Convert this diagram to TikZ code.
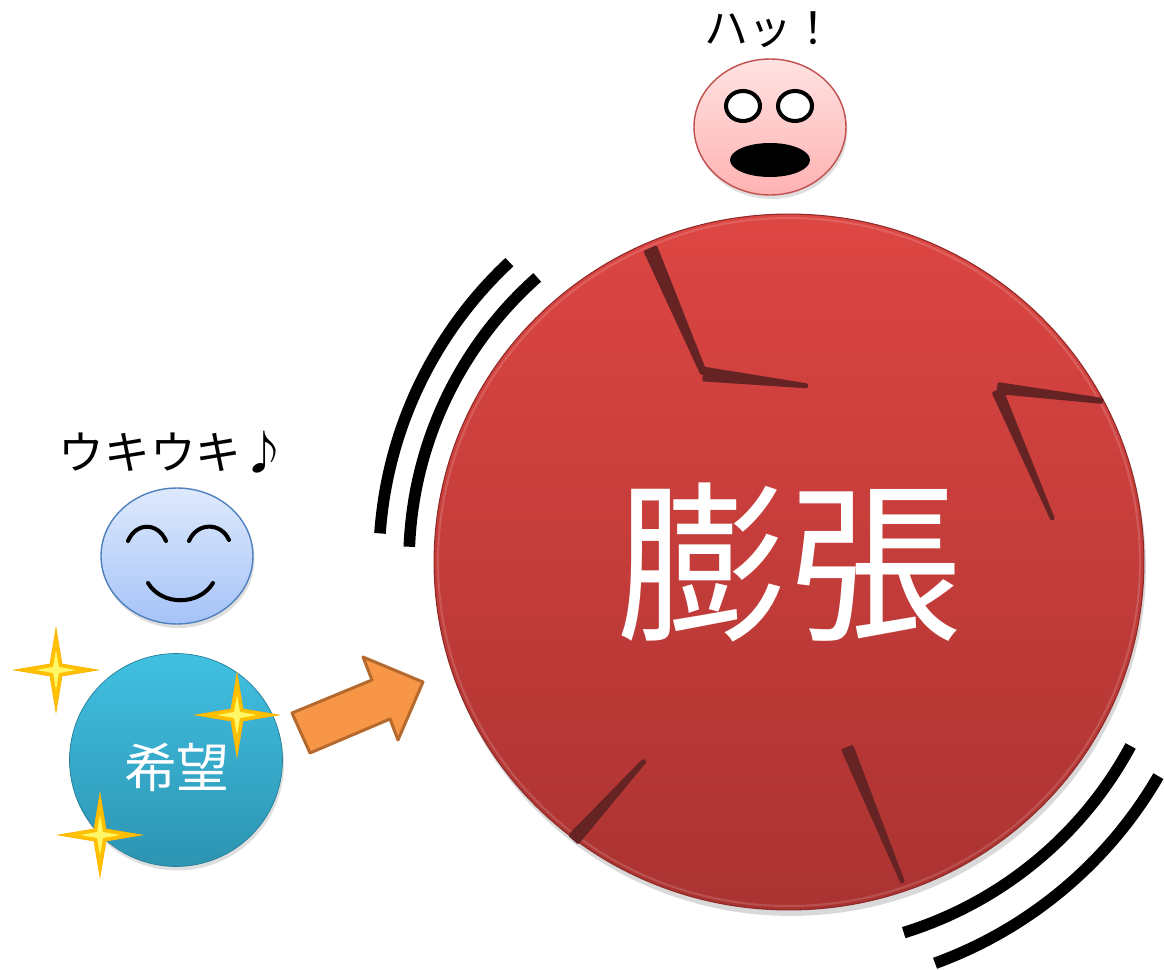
\documentclass[tikz,border=0pt]{standalone}
\usepackage{fontspec}
\newfontfamily\jpfont{Noto Sans CJK JP}
\usetikzlibrary{shapes.geometric,shadows,calc}

\definecolor{clocktop}{HTML}{DD4643}
\definecolor{clockbottom}{HTML}{AA3331}
\definecolor{clockedge}{HTML}{8E2A28}
\definecolor{handcol}{HTML}{652323}
\definecolor{shocktop}{HTML}{FFE2E2}
\definecolor{shockbottom}{HTML}{FFB2B2}
\definecolor{shockedge}{HTML}{C0504D}
\definecolor{happytop}{HTML}{DEE9FC}
\definecolor{happybottom}{HTML}{A5C3F8}
\definecolor{happyedge}{HTML}{4F81BD}
\definecolor{hopetop}{HTML}{41C0E2}
\definecolor{hopebottom}{HTML}{2D94B2}
\definecolor{sparkgold}{HTML}{FFC000}
\definecolor{arrowfill}{HTML}{F79646}
\definecolor{arrowedge}{HTML}{B5692D}

% tapered clock hand from #1 (half width #3) to #2 (half width #4)
\newcommand\clockhand[4]{%
  \fill[hand] ($(#1)!#3!90:(#2)$) -- ($(#1)!#3!-90:(#2)$)
    -- ($(#2)!#4!90:(#1)$) -- ($(#2)!#4!-90:(#1)$) -- cycle;}

\begin{document}
\begin{tikzpicture}[x=0.02cm,y=-0.02cm,
  hand/.style={fill=handcol,rounded corners=.8pt},
  shake/.style={line width=6.6pt},
  face/.style={ellipse,minimum width=3.04cm,minimum height=2.72cm,line width=.8pt},
  soft shadow/.style={drop shadow={opacity=.25,shadow xshift=.3mm,shadow yshift=-.8mm}},
  jp/.style={font=\jpfont\fontsize{#1}{#1}\selectfont},
  sparkle/.pic={
    \filldraw[fill=sparkgold,draw=sparkgold!80!orange,line width=.4pt] (0,-42) -- (6,-6) -- (42,0) -- (6,6) -- (0,42) -- (-6,6) -- (-42,0) -- (-6,-6) -- cycle;
    \fill[yellow!60!white] (0,-20) -- (3,-3) -- (20,0) -- (3,3) -- (0,20) -- (-3,3) -- (-20,0) -- (-3,-3) -- cycle;}]
\useasboundingbox (0,0) rectangle (1164,970);

% the swelling clock
\node[ellipse,minimum width=14.2cm,minimum height=13.92cm,inner sep=0pt,
  top color=clocktop,bottom color=clockbottom,draw=clockedge,line width=.6pt,
  drop shadow={opacity=.3,shadow xshift=.4mm,shadow yshift=-1.2mm},
  text=white,jp=98pt] (clock) at (789,562) {膨張};
\draw[white,opacity=.15,line width=1.2pt] (clock.center) ellipse [x radius=351,y radius=344];
\clockhand{650,248}{704,374}{4.2pt}{2pt}
\clockhand{703,374}{808,386}{4.2pt}{1.4pt}
\clockhand{997,388}{1103,401}{3.4pt}{1.7pt}
\clockhand{997,390}{1053,520}{3.4pt}{1.3pt}
\clockhand{573,840}{645,760}{4pt}{1.4pt}
\clockhand{847,747}{903,883}{3.7pt}{1.3pt}

% shaking lines
\draw[shake] (clock.center) ++(-133:410) arc[start angle=-133,end angle=-176,radius=410];
\draw[shake] (clock.center) ++(-131.5:380) arc[start angle=-131.5,end angle=-177.7,radius=380];
\draw[shake] (clock.center) ++(28.3:388) arc[start angle=28.3,end angle=72.8,radius=388];
\draw[shake] (clock.center) ++(30.1:427) arc[start angle=30.1,end angle=70,radius=427];

% startled face
\node[face,top color=shocktop,bottom color=shockbottom,draw=shockedge,soft shadow] (shock) at (770,127) {};
\draw[line width=2.3pt,fill=white] (743,106) ellipse [x radius=17,y radius=15];
\draw[line width=2.3pt,fill=white] (795,106) ellipse [x radius=17,y radius=15];
\fill (770,160) ellipse [x radius=40,y radius=17];
\node[jp=25pt] (gasp) at (770,30) {ハッ！};

% cheerful face
\node[face,top color=happytop,bottom color=happybottom,draw=happyedge,soft shadow] (happy) at (177,556) {};
\draw[line width=2.3pt,line cap=round] (128,541) .. controls (136,522) and (158,522) .. (166,541);
\draw[line width=2.3pt,line cap=round] (189,541) .. controls (197,522) and (221,522) .. (229,540);
\draw[line width=2.3pt,line cap=round] (148,583) .. controls (162,606) and (199,606) .. (213,583);
\node[jp=26pt] (cheer) at (173,452) {ウキウキ♪};

% hope ball
\node[circle,minimum size=4.26cm,top color=hopetop,bottom color=hopebottom,
  draw=hopebottom!85!black,line width=.4pt,soft shadow] (hope) at (176,760) {};
\node[text=white,jp=30pt] (hopetext) at (177,767) {希望};
\pic (spark1) at (56,670) {sparkle};
\pic (spark2) at (237,715) {sparkle};
\pic (spark3) at (100,835) {sparkle};

% block arrow toward the clock
\filldraw[fill=arrowfill,draw=arrowedge,line width=1.7pt,line join=round]
  (310,753) -- (292,713) -- (372,680) -- (363,657) -- (423,682) -- (398,740) -- (390,719) -- cycle;
\end{tikzpicture}
\end{document}
